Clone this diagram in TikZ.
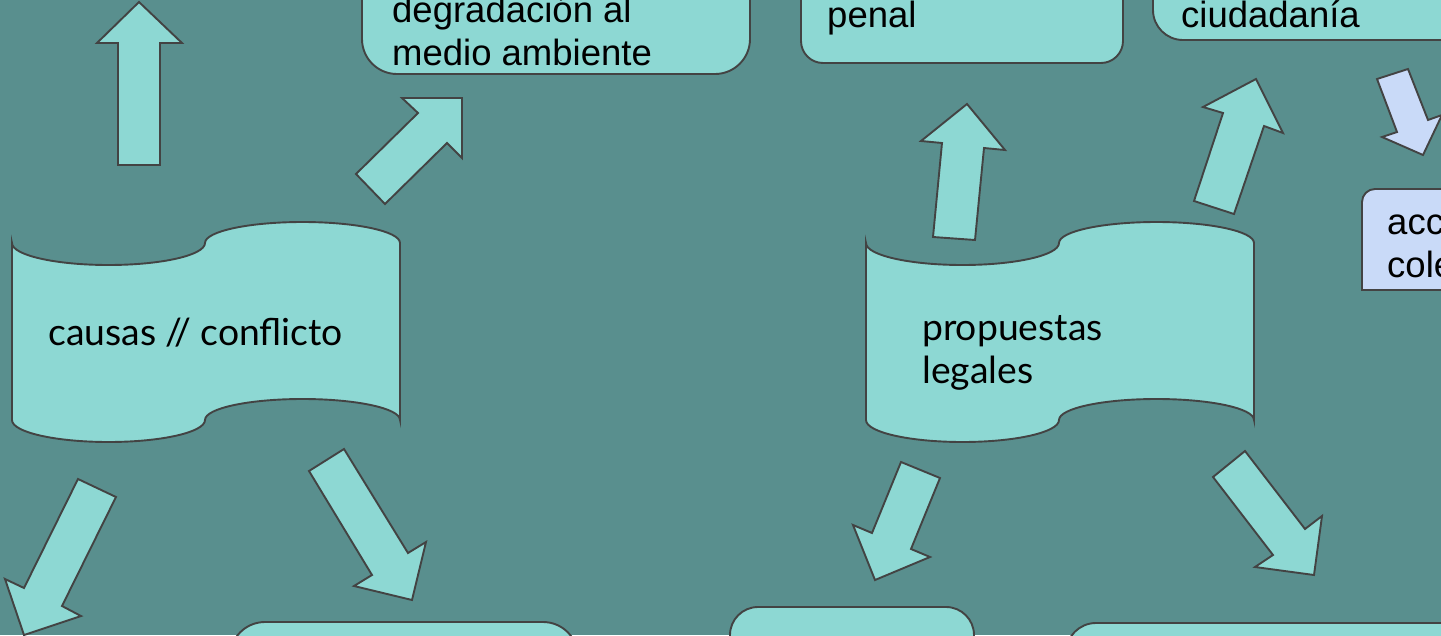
\documentclass[tikz,border=0pt]{standalone}
\usepackage{fontspec}
\setmainfont{Liberation Sans}
\newfontfamily\bandafont{Lato}

\definecolor{fondo}{HTML}{598F8E}
\definecolor{turquesa}{HTML}{8DD8D3}
\definecolor{celeste}{HTML}{C9DAF8}
\definecolor{borde}{HTML}{434343}

\begin{document}
\begin{tikzpicture}[x=1pt, y=1pt, yscale=-1,
    figura/.style={draw=borde, line width=1.9pt, fill=turquesa, line join=miter},
    caja/.style={figura, rounded corners=#1, outer sep=0pt, inner sep=0pt},
    texto/.style={anchor=base west, inner sep=0pt, align=left,
        font=\fontsize{36.5}{43}\selectfont},
    textobanda/.style={anchor=base west, inner sep=0pt, align=left,
        font=\bandafont\fontsize{37.3}{43}\selectfont}]

    % Fondo
    \useasboundingbox (0,0) rectangle (1441,635);
    \fill[fondo] (0,0) rectangle (1441,635);

    % Cajas de arriba (el texto de varias líneas va en la base de la última)
    \node[caja=35pt, minimum width=388pt, minimum height=150pt, anchor=south west] (degradacion) at (362,74) {};
    \node[texto] at (392,65) {degradación al\\medio ambiente};

    \node[caja=22pt, minimum width=322pt, minimum height=150pt, anchor=south west] (penal) at (801,63) {};
    \node[texto] at (827,27) {penal};

    \node[caja=30pt, minimum width=400pt, minimum height=150pt, anchor=south west] (ciudadania) at (1153,40) {};
    \node[texto] at (1181,27) {ciudadanía};

    % Caja celeste (solo la esquina de arriba redondeada)
    \draw[figura, fill=celeste] (1500,290) -- (1362,290) -- (1362,202)
        arc[start angle=180, end angle=270, radius=13] -- (1500,189) -- cycle;
    \node[texto] at (1387,277) {acc\\cole};

    % Cajas de abajo
    \node[caja=35pt, minimum width=348pt, minimum height=100pt, anchor=north west] (abajoizq) at (230,622) {};
    \node[caja=28pt, minimum width=244pt, minimum height=100pt, anchor=north west] (abajocentro) at (730,607) {};
    \node[caja=30pt, minimum width=450pt, minimum height=100pt, anchor=north west] (abajoder) at (1066,623) {};

    % Banda izquierda: causas // conflicto
    \draw[figura] (12,243) arc[start angle=180, end angle=0, x radius=96.5, y radius=22]
        arc[start angle=180, end angle=360, x radius=97.5, y radius=21] -- (400,420)
        arc[start angle=0, end angle=-180, x radius=97.5, y radius=21]
        arc[start angle=0, end angle=180, x radius=96.5, y radius=22] -- cycle;
    \node[textobanda] (causas) at (48,345) {causas // conflicto};

    % Banda derecha: propuestas legales
    \draw[figura, xshift=854pt] (12,243) arc[start angle=180, end angle=0, x radius=96.5, y radius=22]
        arc[start angle=180, end angle=360, x radius=97.5, y radius=21] -- (400,420)
        arc[start angle=0, end angle=-180, x radius=97.5, y radius=21]
        arc[start angle=0, end angle=180, x radius=96.5, y radius=22] -- cycle;
    \node[textobanda] (propuestas) at (922,383) {propuestas\\legales};

    % Flechas de la banda izquierda
    \draw[figura] (118,165) -- (118,43) -- (97,43) -- (139,2) -- (182,43) -- (160,43) -- (160,165) -- cycle;
    \draw[figura] (356,174) -- (418,113) -- (402,98) -- (462,98) -- (462,158) -- (447,143) -- (385,204) -- cycle;
    \draw[figura] (78,479) -- (116,497) -- (62,606) -- (81,616) -- (24,635) -- (5,579) -- (24,588) -- cycle;
    \draw[figura] (309,471) -- (344,449) -- (408,553) -- (426,542) -- (412,600) -- (354,586) -- (372,575) -- cycle;

    % Flechas de la banda derecha
    \draw[figura] (933,237) -- (942,143) -- (921,141) -- (967,104) -- (1005,150) -- (984,148) -- (975,240) -- cycle;
    \draw[figura] (1194,201) -- (1223,113) -- (1203,107) -- (1256,79) -- (1283,133) -- (1264,126) -- (1234,214) -- cycle;
    \draw[figura] (901,462) -- (940,478) -- (911,549) -- (930,557) -- (875,580) -- (853,525) -- (872,533) -- cycle;
    \draw[figura] (1213,477) -- (1245,451) -- (1305,529) -- (1322,516) -- (1314,575) -- (1255,567) -- (1273,555) -- cycle;

    % Flecha celeste
    \draw[figura, fill=celeste] (1377,79) -- (1408,69) -- (1428,120) -- (1442,115) -- (1423,155) -- (1382,137) -- (1397,132) -- cycle;
\end{tikzpicture}
\end{document}
